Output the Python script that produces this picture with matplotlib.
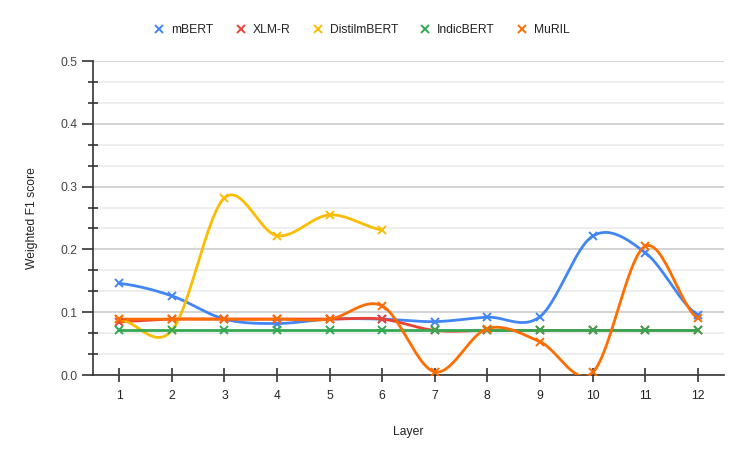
import numpy as np
import matplotlib
matplotlib.use("Agg")
import matplotlib.pyplot as plt
from matplotlib.ticker import FixedLocator, FormatStrFormatter

plt.rcParams['font.family'] = ['Liberation Sans', 'DejaVu Sans']

layers = [1, 2, 3, 4, 5, 6, 7, 8, 9, 10, 11, 12]
mbert = [0.146, 0.126, 0.089, 0.082, 0.089, 0.089, 0.085, 0.092, 0.093, 0.221, 0.195, 0.096]
xlmr = [0.085, 0.089, 0.089, 0.089, 0.089, 0.089, 0.071, 0.071, 0.071, 0.071, 0.071, 0.071]
distil = [0.089, 0.071, 0.282, 0.222, 0.255, 0.231, None, None, None, None, None, None]
indic = [0.071] * 12
muril = [0.089, 0.089, 0.089, 0.089, 0.089, 0.110, 0.005, 0.074, 0.053, 0.004, 0.205, 0.090]
y_ticks = [0.0, 0.1, 0.2, 0.3, 0.4, 0.5]

series = [
    ("mBERT", mbert, "#4285F4"),
    ("XLM-R", xlmr, "#EA4335"),
    ("DistilmBERT", distil, "#FBBC04"),
    ("IndicBERT", indic, "#34A853"),
    ("MuRIL", muril, "#FF6D01"),
]

FS = 8.7


def smooth(xs, ys, n=30, t=0.5):
    xs = np.asarray(xs, float)
    ys = np.asarray(ys, float)
    if len(xs) < 3:
        return xs, ys
    px = np.concatenate([[2 * xs[0] - xs[1]], xs, [2 * xs[-1] - xs[-2]]])
    py = np.concatenate([[ys[0]], ys, [ys[-1]]])
    ox, oy = [], []
    for i in range(1, len(px) - 2):
        p0, p1, p2, p3 = (np.array([px[j], py[j]]) for j in range(i - 1, i + 3))
        m1 = (p2 - p0) * t
        m2 = (p3 - p1) * t
        s = np.linspace(0, 1, n)[:, None]
        h00 = 2 * s**3 - 3 * s**2 + 1
        h10 = s**3 - 2 * s**2 + s
        h01 = -2 * s**3 + 3 * s**2
        h11 = s**3 - s**2
        pts = h00 * p1 + h10 * m1 + h01 * p2 + h11 * m2
        ox.extend(pts[:, 0]); oy.extend(pts[:, 1])
    return np.array(ox), np.array(oy)


fig = plt.figure(figsize=(7.47, 4.61), dpi=100)
ax = fig.add_axes([93 / 747, 1 - 375 / 461, (724 - 93) / 747, (375 - 61) / 461])

for name, vals, col in series:
    xs = [x for x, v in zip(layers, vals) if v is not None]
    ys = [v for v in vals if v is not None]
    sx, sy = smooth(xs, ys)
    ax.plot(sx, sy, color=col, lw=2, zorder=3, solid_capstyle='round')
    ax.plot(xs, ys, linestyle='none', marker='x', ms=5.5, mew=1.4, color=col, zorder=4,
            label=name)

ax.set_xlim(0.5, 12.5)
ax.set_ylim(0, 0.5)
ax.xaxis.set_major_locator(FixedLocator(layers))
ax.xaxis.set_major_formatter(FormatStrFormatter('%d'))
ax.yaxis.set_major_locator(FixedLocator(y_ticks))
ax.yaxis.set_major_formatter(FormatStrFormatter('%.1f'))
ax.yaxis.set_minor_locator(FixedLocator([i / 30 for i in range(16) if i % 3 != 0]))

ax.grid(axis='y', which='major', color='#cccccc', lw=1.2, zorder=0)
ax.grid(axis='y', which='minor', color='#ebebeb', lw=1.2, zorder=0)
ax.set_axisbelow(True)

for s in ['top', 'right']:
    ax.spines[s].set_visible(False)
for s in ['left', 'bottom']:
    ax.spines[s].set_color('#333333')
    ax.spines[s].set_linewidth(1.2)

ax.tick_params(axis='x', direction='inout', length=10, width=1.2, color='#333333',
               labelsize=FS, labelcolor='#222222', pad=6)
ax.tick_params(axis='y', which='major', direction='out', length=8, width=1.2,
               color='#333333', labelsize=FS, labelcolor='#444444', pad=3)
ax.tick_params(axis='y', which='minor', direction='inout', length=7, width=1.2, color='#333333')

ax.set_xlabel("Layer", fontsize=FS, color='#222222', labelpad=17)
ax.set_ylabel("Weighted F1 score", fontsize=FS, color='#222222', labelpad=16)

leg = fig.legend(loc='center', bbox_to_anchor=(0.484, 1 - 30 / 461), ncol=5, frameon=False,
                 fontsize=FS, handletextpad=0.5, columnspacing=1.75, handlelength=1.0,
                 markerscale=1.1)
for t in leg.get_texts():
    t.set_color('#222222')

fig.savefig("out.png", dpi=100)
